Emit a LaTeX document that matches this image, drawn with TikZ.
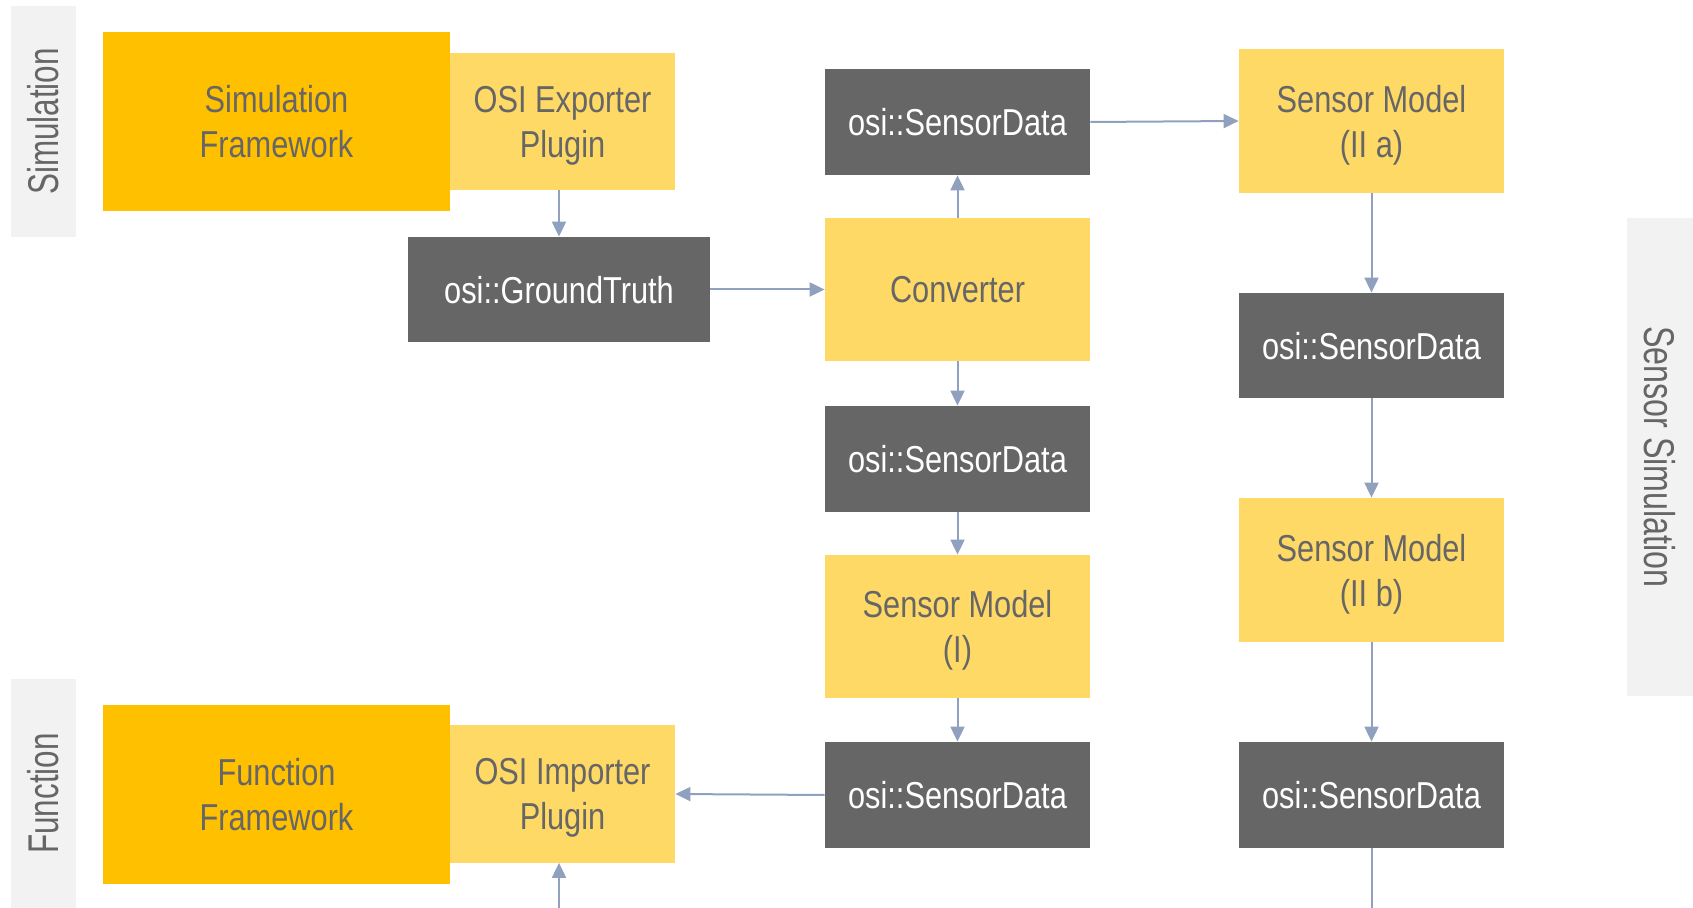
\documentclass[tikz,border=0pt]{standalone}
\usepackage{fontspec}
\setmainfont{Liberation Sans}[FakeStretch=0.82]
\newfontfamily\sidefont{Liberation Sans}[FakeStretch=0.73]
\newfontfamily\sidefontwide{Liberation Sans}[FakeStretch=0.75]
\usetikzlibrary{arrows.meta}
\definecolor{fwcol}{HTML}{FFC000}
\definecolor{plugcol}{HTML}{FFD966}
\definecolor{datacol}{HTML}{666666}
\definecolor{txtcol}{HTML}{666666}
\definecolor{barcol}{HTML}{F2F2F2}
\definecolor{linkcol}{HTML}{8FA1BF}
\begin{document}
\begin{tikzpicture}[x=0.5pt,y=-0.5pt,
  base/.style={rectangle, inner sep=0pt, align=center, text depth=0pt,
    font=\fontsize{18.75pt}{22.5pt}\selectfont},
  fwbox/.style={base, fill=fwcol, text=txtcol, minimum width=173.5pt, minimum height=89.5pt},
  plugbox/.style={base, fill=plugcol, text=txtcol, minimum width=112.5pt, minimum height=68.5pt},
  modelbox/.style={base, fill=plugcol, text=txtcol, minimum width=132.5pt, minimum height=72pt},
  databox/.style={base, fill=datacol, text=white, minimum width=132.5pt, minimum height=53pt},
  sidebar/.style={rectangle, inner sep=0pt, fill=barcol, text=txtcol,
    font=\sidefont\fontsize{21.5pt}{25pt}\selectfont, minimum height=32.5pt},
  flow/.style={draw=linkcol, line width=1pt, -{Triangle[length=7.5pt,width=7pt]}},
  plain/.style={draw=linkcol, line width=1pt}]

\useasboundingbox (0,0) rectangle (1693,908);

% side bars with the layer names
\node[sidebar, rotate=90, minimum width=115.5pt] (simbar) at (43.5,121.5) {Simulation};
\node[sidebar, rotate=90, minimum width=114.5pt] (funbar) at (43.5,793.5) {Function};
\node[sidebar, rotate=-90, minimum width=239pt, minimum height=33pt,
  font=\sidefontwide\fontsize{21.5pt}{25pt}\selectfont] (sensbar) at (1660,457) {Sensor Simulation};

% simulation side
\node[fwbox] (simfw) at (276.5,121.5) {Simulation\\Framework};
\node[plugbox] (exporter) at (562.5,121.5) {OSI Exporter\\Plugin};
\node[databox, minimum width=151pt, minimum height=52.5pt] (gt) at (559,289.5) {osi::GroundTruth};

% function side
\node[fwbox] (funfw) at (276.5,794.5) {Function\\Framework};
\node[plugbox] (importer) at (562.5,794) {OSI Importer\\Plugin};

% middle chain
\node[databox] (sdtop) at (957.5,122) {osi::SensorData};
\node[modelbox, minimum height=71.5pt] (conv) at (957.5,289.5) {Converter};
\node[databox] (sdmid) at (957.5,459) {osi::SensorData};
\node[modelbox, minimum height=71.5pt] (smi) at (957.5,626.5) {Sensor Model\\(I)};
\node[databox] (sdbot) at (957.5,795) {osi::SensorData};

% right chain
\node[modelbox] (sma) at (1371.5,121) {Sensor Model\\(II a)};
\node[databox, minimum height=52.5pt] (sdr1) at (1371.5,345.5) {osi::SensorData};
\node[modelbox] (smb) at (1371.5,570) {Sensor Model\\(II b)};
\node[databox] (sdr2) at (1371.5,795) {osi::SensorData};

% open ends at the lower border
\coordinate (rout) at (1371.5,908);
\coordinate (lin) at (559,908);

% connectors
\draw[flow] (gt.north |- exporter.south) -- (gt.north);
\draw[flow] (gt.east) -- (conv.west);
\draw[flow] (conv.north) -- (sdtop.south);
\draw[flow] (sdtop.east) -- (sma.west);
\draw[flow] (conv.south) -- (sdmid.north);
\draw[flow] (sdmid.south) -- (smi.north);
\draw[flow] (smi.south) -- (sdbot.north);
\draw[flow] (sdbot.west) -- (importer.east);
\draw[flow] (sma.south) -- (sdr1.north);
\draw[flow] (sdr1.south) -- (smb.north);
\draw[flow] (smb.south) -- (sdr2.north);
\draw[plain] (sdr2.south) -- (rout);
\draw[flow] (lin) -- (lin |- importer.south);

\end{tikzpicture}
\end{document}
